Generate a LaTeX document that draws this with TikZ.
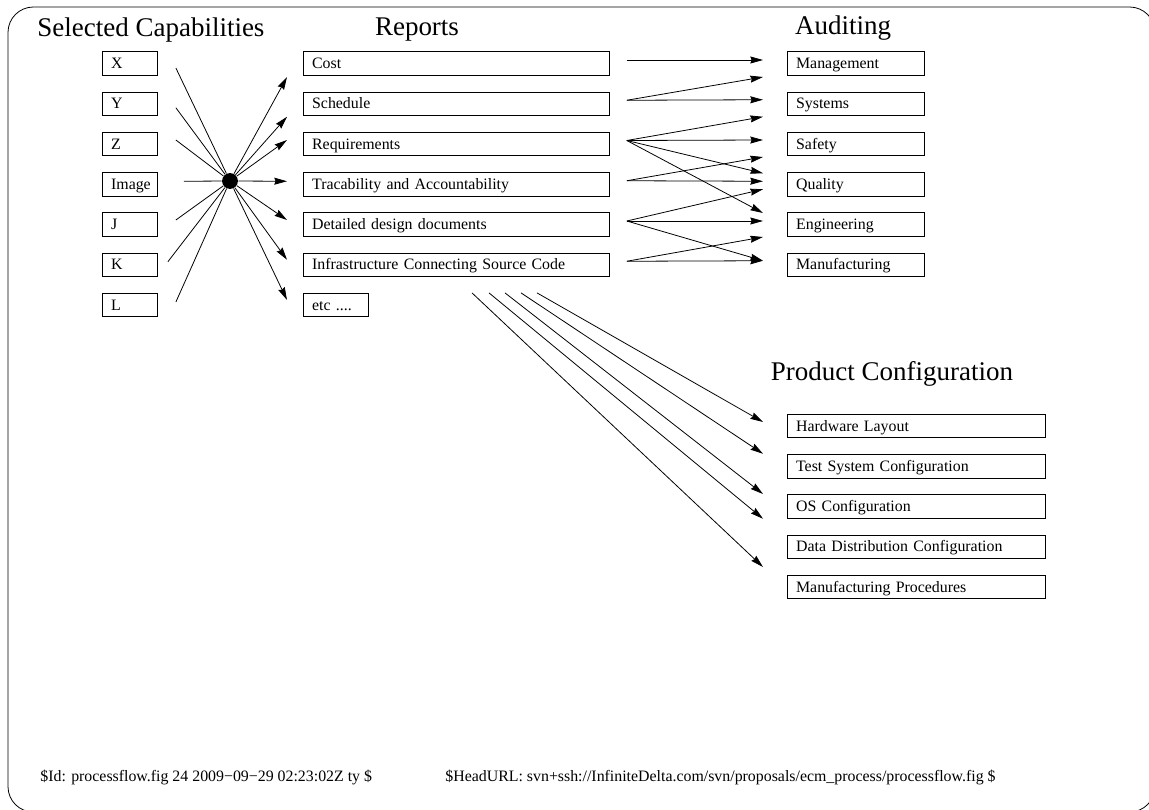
\documentclass[tikz,border=0pt]{standalone}
\usepackage{fontspec}
\setmainfont{Liberation Serif}
\usepackage{tikz}
\usetikzlibrary{calc}
\usetikzlibrary{arrows.meta}
\tikzset{>={Stealth[length=8pt,width=4.4pt,inset=0.8pt]}}
\tikzset{box/.style={draw, anchor=west, minimum height=14.8pt, inner xsep=5.5pt, inner ysep=0pt,
	text height=7.8pt, text depth=1.2pt, text width=#1, align=left}}
\tikzset{hub/.style={circle, fill=black, inner sep=0pt, minimum size=10pt}}
\newcommand{\titlefont}{\fontsize{17}{20}\selectfont}

\begin{document}
\begin{tikzpicture}[x=0.63pt, y=-0.63pt, line width=0.5pt]

	\useasboundingbox (0,0) rectangle (1149,809);
	\draw[rounded corners=16pt] (8,7) rectangle (1155,812);

	\node[font=\titlefont, inner sep=0pt, anchor=west] (captitle) at (37,30) {Selected Capabilities};
	\node[font=\titlefont, inner sep=0pt] (reptitle) at (417,30) {Reports};
	\node[font=\titlefont, inner sep=0pt] (audtitle) at (843,28) {Auditing};
	\node[font=\titlefont, inner sep=0pt] (prodtitle) at (892,374) {Product Configuration};

	\foreach \n/\t [count=\i from 0] in {cx/X, cy/Y, cz/Z, cimg/Image, cj/J, ck/K, cl/L}{
		\node[box=23.7pt] (\n) at (102,{63.5+40.25*\i}) {\t};
	}
	\foreach \n/\t [count=\i from 0] in {cost/Cost, sched/Schedule, req/Requirements,
		trace/Tracability and Accountability, design/Detailed design documents,
		infra/Infrastructure Connecting Source Code}{
		\node[box=181.8pt] (\n) at (303,{63.5+40.25*\i}) {\t};
	}
	\node[box=30pt] (etc) at (303,{63.5+40.25*6}) {etc ....};
	\foreach \n/\t [count=\i from 0] in {mgmt/Management, sys/Systems, safety/Safety,
		quality/Quality, eng/Engineering, manuf/Manufacturing}{
		\node[box=75.3pt] (\n) at (787,{63.5+40.25*\i}) {\t};
	}
	\foreach \n/\t [count=\i from 0] in {hw/Hardware Layout, test/Test System Configuration,
		os/OS Configuration, data/Data Distribution Configuration, proc/Manufacturing Procedures}{
		\node[box=151.5pt] (\n) at (787,{426+40.25*\i}) {\t};
	}

	\node[hub] (hub) at (230,181) {};
	\foreach \n/\dx/\dy in {cx/18/4.5, cy/18/4, cz/18/-4, cimg/26/-3, cj/18/-4.5, ck/10/-3, cl/18/-3}{
		\draw ($(\n.east)+(\dx,\dy)$) -- (hub);
	}
	\foreach \n/\dy in {cost/13.5, sched/13, req/-4, trace/-3, design/-4.5, infra/-5, etc/-5}{
		\draw[->] (hub) -- ($(\n.west)+(-16,\dy)$);
	}

	\foreach \s/\d/\dy in {cost/mgmt/-3.5, sched/mgmt/13.5, sched/sys/-4, req/sys/13,
		req/safety/-4, req/quality/-11, req/eng/-11.5, trace/safety/13, trace/quality/-3,
		design/quality/5, design/eng/-3.5, design/manuf/-4, infra/eng/12.5, infra/manuf/-4}{
		\draw[->] ($(\s.east)+(17,-3.5)$) -- ($(\d.west)+(-24,\dy)$);
	}

	\foreach \dx/\d/\dy in {234/hw/-4, 218/test/-12.5, 202/os/-12.5, 186/data/-28, 169/proc/-20}{
		\draw[->] ($(infra.south west)+(\dx,16)$) -- ($(\d.west)+(-24,\dy)$);
	}

	\node[anchor=west, inner sep=0pt] (idtag) at (40,777)
		{\$Id: processflow.fig 24 2009−09−29 02:23:02Z ty \$};
	\node[anchor=west, inner sep=0pt] (urltag) at (445,777)
		{\$HeadURL: svn+ssh://InfiniteDelta.com/svn/proposals/ecm\_process/processflow.fig \$};

\end{tikzpicture}
\end{document}
